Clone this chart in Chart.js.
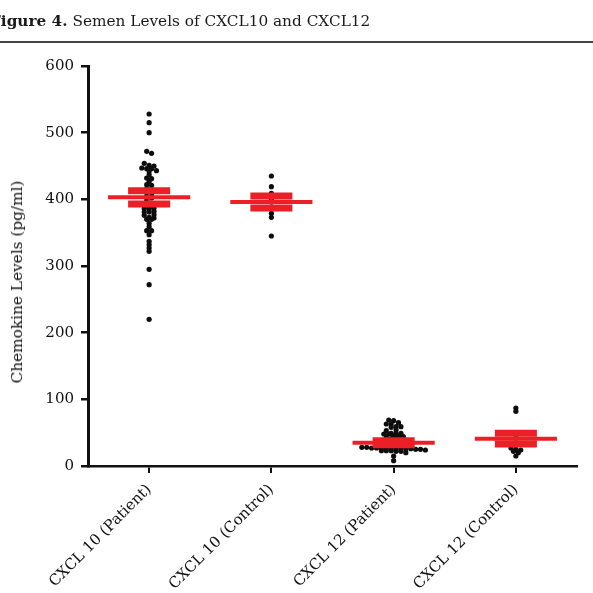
<!DOCTYPE html>
<html>
<head>
<meta charset="utf-8">
<script src="https://cdn.jsdelivr.net/npm/chart.js@4.4.0/dist/chart.umd.min.js"></script>
<style>
  html, body { margin: 0; padding: 0; background: #fff; width: 593px; height: 593px; overflow: hidden; }
  #wrap { position: relative; width: 593px; height: 593px; }
  #chart { position: absolute; left: 0; top: 0; }
  #title { position: absolute; left: -10px; top: 12px; font-family: 'DejaVu Serif', serif; font-size: 15.3px; color: #1a1a1a; white-space: nowrap; }
  #title b { font-weight: bold; }
  #rule { position: absolute; left: 0; top: 41px; width: 593px; height: 2px; background: #444; }
  #ylab { position: absolute; left: 17px; top: 282px; transform: translate(-50%, -50%) rotate(-90deg); font-family: 'DejaVu Serif', serif; font-size: 15.3px; color: #111; white-space: nowrap; }
</style>
</head>
<body>
<div id="wrap">
  <canvas id="chart" width="593" height="593"></canvas>
  <div id="title"><b>Figure 4.</b> Semen Levels of CXCL10 and CXCL12</div>
  <div id="rule"></div>
  <div id="ylab">Chemokine Levels (pg/ml)</div>
</div>
<script>
// ---- data ----
const categories = ['CXCL 10 (Patient)', 'CXCL 10 (Control)', 'CXCL 12 (Patient)', 'CXCL 12 (Control)'];
const yTicks = [0, 100, 200, 300, 400, 500, 600];

const cxcl10Patient = [528, 515, 500, 472, 469, 454, 451, 450, 447, 446, 446, 443, 442, 437, 432, 431, 427, 422, 421,
  416, 415, 410, 408, 404, 402, 398, 394, 391, 387, 387, 386, 386, 382, 381, 381, 377, 376, 373, 372, 370, 370,
  364, 359, 353, 353, 347, 337, 332, 327, 322, 295, 272, 220];
const cxcl10Control = [435, 419, 409, 401, 396, 379, 373, 345];
const cxcl12Patient = [69, 68, 65, 63, 63, 59, 59, 58, 54, 53, 49, 49, 49, 48, 48, 45, 44, 44, 43, 41, 40, 39, 38,
  37, 36, 35, 34, 33, 32, 31, 30, 28, 28, 27, 27, 27, 27, 26, 26, 26, 26, 26, 25, 25, 24, 23, 23, 23, 22, 22, 20, 15, 8];
const cxcl12Control = [87, 82, 42, 35, 27, 25, 24, 22, 20, 15];

const groupValues = [cxcl10Patient, cxcl10Control, cxcl12Patient, cxcl12Control];
const means = [403, 396, 35, 41];
const sems = [10, 9, 3, 8];

// ---- layout helpers (beeswarm rows like a column scatter plot) ----
const RED = '#ec1f26';
const BIN = 5;        // value units per row
const STEP = 0.04;    // horizontal spacing between dots in a row (category units)
function swarm(values, center) {
  const sorted = values.slice().sort((a, b) => b - a);
  const rows = [];
  let cur = null;
  for (const v of sorted) {
    if (cur && cur.start - v < BIN) cur.vals.push(v);
    else { cur = { start: v, vals: [v] }; rows.push(cur); }
  }
  const pts = [];
  for (const r of rows) {
    const n = r.vals.length;
    r.vals.forEach((v, i) => pts.push({ x: center + (i - (n - 1) / 2) * STEP, y: v }));
  }
  return pts;
}

const datasets = [];
groupValues.forEach((vals, i) => {
  datasets.push({
    type: 'scatter',
    label: categories[i],
    data: swarm(vals, i + 1),
    pointRadius: 2.6,
    pointBorderWidth: 0,
    pointBackgroundColor: '#0d0d0d',
    order: 2
  });
});
function seg(x0, x1, y0, y1, w) {
  return {
    type: 'line', data: [{ x: x0, y: y0 }, { x: x1, y: y1 }],
    borderColor: RED, borderWidth: w, pointRadius: 0, borderCapStyle: 'butt', fill: false, order: 0
  };
}
means.forEach((m, i) => {
  const c = i + 1, s = sems[i];
  datasets.push(seg(c - 0.336, c + 0.336, m, m, 4));
  datasets.push(seg(c - 0.172, c + 0.172, m + s, m + s, 7));
  datasets.push(seg(c - 0.172, c + 0.172, m - s, m - s, 7));
  datasets.push(seg(c, c, m - s, m + s, 2));
});

const serif = 'DejaVu Serif';
new Chart(document.getElementById('chart'), {
  type: 'scatter',
  data: { datasets },
  options: {
    responsive: false,
    animation: false,
    devicePixelRatio: 1,
    layout: { padding: { top: 66, right: 16, left: 0, bottom: 0 } },
    plugins: { legend: { display: false }, tooltip: { enabled: false } },
    scales: {
      x: {
        type: 'linear', min: 0.5, max: 4.5,
        afterBuildTicks: (s) => { s.ticks = categories.map((_, i) => ({ value: i + 1 })); },
        afterFit: (s) => { s.height = 127; },
        ticks: {
          autoSkip: false, minRotation: 45, maxRotation: 45, padding: 8,
          color: '#111', font: { family: serif, size: 15 },
          callback: (v) => categories[Math.round(v) - 1]
        },
        grid: { display: true, drawOnChartArea: false, drawTicks: true, tickLength: 7, color: '#111', lineWidth: 2 },
        border: { display: true, color: '#111', width: 2.5 }
      },
      y: {
        type: 'linear', min: 0, max: 600,
        afterBuildTicks: (s) => { s.ticks = yTicks.map(v => ({ value: v })); },
        afterFit: (s) => { s.width = 88; },
        ticks: { color: '#111', padding: 7, font: { family: serif, size: 15 } },
        grid: { display: true, drawOnChartArea: false, drawTicks: true, tickLength: 7, color: '#111', lineWidth: 2.5 },
        border: { display: true, color: '#111', width: 3 }
      }
    }
  }
});
</script>
</body>
</html>
